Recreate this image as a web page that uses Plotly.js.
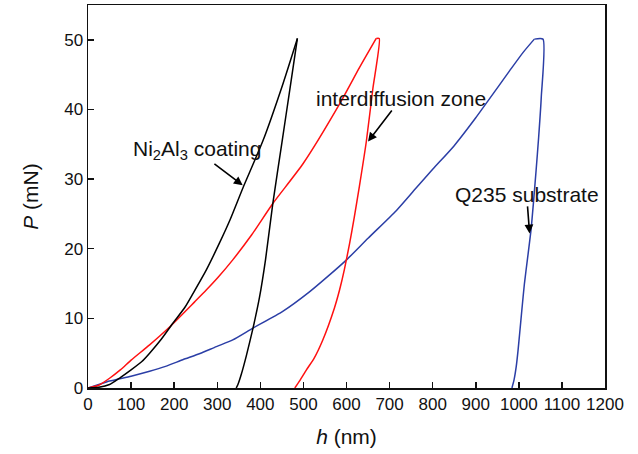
<!DOCTYPE html>
<html>
<head>
<meta charset="utf-8">
<script src="https://cdn.plot.ly/plotly-3.0.1.min.js"></script>
<style>html,body{margin:0;padding:0;background:#fff;}#chart{width:638px;height:454px;}</style>
</head>
<body>
<div id="chart"></div>
<script>
// Ni2Al3 coating (black)
const niLoadH = [0, 25, 50, 75, 100, 125, 143, 170, 197, 225, 244, 275, 305, 330, 360, 406, 452, 486];
const niLoadP = [0, 0.1, 0.5, 1.5, 2.6, 3.8, 5.0, 7.0, 9.3, 11.6, 13.6, 17.0, 20.8, 24.2, 28.8, 35.5, 43.6, 50.2];
const niUnloadH = [486, 470, 450, 429, 412, 398, 383, 367, 356, 348, 344];
const niUnloadP = [50.2, 43.5, 35.2, 26.5, 18.4, 13.0, 8.6, 4.5, 2.0, 0.5, 0];

// interdiffusion zone (red)
const idLoadH = [0, 25, 50, 75, 100, 143, 190, 248, 275, 302, 336, 380, 429, 499, 584, 630, 669];
const idLoadP = [0, 0.4, 1.4, 2.6, 4.0, 6.2, 8.8, 12.4, 14.1, 15.9, 18.4, 22.0, 26.5, 32.2, 40.8, 46.0, 50.2];
const idUnloadH = [669, 676, 661, 646, 630, 618, 607, 595, 584, 572, 545, 525, 507, 492, 480];
const idUnloadP = [50.2, 50.2, 42.9, 35.4, 29.0, 24.5, 20.7, 17.0, 14.1, 11.5, 6.9, 4.3, 2.6, 1.1, 0];

// Q235 substrate (blue)
const qLoadH = [0, 25, 50, 100, 143, 180, 220, 260, 298, 336, 383, 452, 514, 560, 600, 650, 716, 760, 800, 850, 900, 928, 978, 1010, 1036];
const qLoadP = [0, 0.5, 1.0, 1.7, 2.4, 3.1, 4.05, 4.95, 5.95, 6.9, 8.6, 11.0, 13.8, 16.2, 18.4, 21.5, 25.5, 28.6, 31.4, 34.8, 38.8, 41.2, 45.5, 48.2, 50.1];
const qUnloadH = [1036, 1056, 1052, 1046, 1040, 1029, 1020, 1013, 1007, 1002, 998, 994, 989, 984];
const qUnloadP = [50.1, 50.1, 41.7, 36.0, 31.2, 23.1, 18.5, 15.0, 11.2, 7.9, 5.3, 3.1, 1.2, 0];

const xTicks = [0, 100, 200, 300, 400, 500, 600, 700, 800, 900, 1000, 1100, 1200];
const yTicks = [0, 10, 20, 30, 40, 50];

function seg(h, p, color) {
  return {
    x: h, y: p, type: 'scatter', mode: 'lines',
    line: {color: color, width: 1.5, shape: 'spline', smoothing: 0.6},
    hoverinfo: 'skip', showlegend: false
  };
}

const blue = '#2b3ea6', red = '#ff1010', black = '#000000';
const data = [
  seg(qLoadH, qLoadP, blue), seg(qUnloadH, qUnloadP, blue),
  seg(idLoadH, idLoadP, red), seg(idUnloadH, idUnloadP, red),
  seg(niLoadH, niLoadP, black), seg(niUnloadH, niUnloadP, black)
];

const font = 'Liberation Sans, Arial, sans-serif';
const axisCommon = {
  showgrid: false, zeroline: false,
  showline: true, linecolor: '#111', linewidth: 1.5, mirror: true,
  ticks: 'inside', ticklen: 6, tickwidth: 1.5, tickcolor: '#111',
  tickfont: {family: font, size: 17, color: '#111'}
};

function label(text, x, y, ax, ay) {
  return {x: x, y: y, xref: 'x', yref: 'y', ax: ax, ay: ay, text: text,
    showarrow: true, arrowhead: 2, arrowsize: 1.1, arrowwidth: 1.6, arrowcolor: '#000',
    standoff: 0, startstandoff: 0, borderpad: 0,
    font: {family: font, size: 21, color: '#111'}};
}

const layout = {
  width: 638, height: 454,
  margin: {l: 88, r: 33, t: 5, b: 66},
  paper_bgcolor: '#fff', plot_bgcolor: '#fff',
  xaxis: Object.assign({}, axisCommon, {
    range: [0, 1200], tickvals: xTicks, ticktext: xTicks.map(String),
    title: {text: '<i>h</i> (nm)', font: {family: font, size: 21, color: '#111'}, standoff: 16}
  }),
  yaxis: Object.assign({}, axisCommon, {
    range: [0, 55], tickvals: yTicks, ticktext: yTicks.map(String),
    title: {text: '<i>P</i> (mN)', font: {family: font, size: 21, color: '#111'}, standoff: 20}
  }),
  annotations: [
    label('Ni<sub>2</sub>Al<sub>3</sub> coating', 359, 29.1, -46, -35),
    label('interdiffusion zone', 650, 35.4, 33, -43),
    label('Q235 substrate', 1025, 22.2, -3, -39)
  ]
};

Plotly.newPlot('chart', data, layout, {displayModeBar: false, staticPlot: true});
</script>
</body>
</html>
